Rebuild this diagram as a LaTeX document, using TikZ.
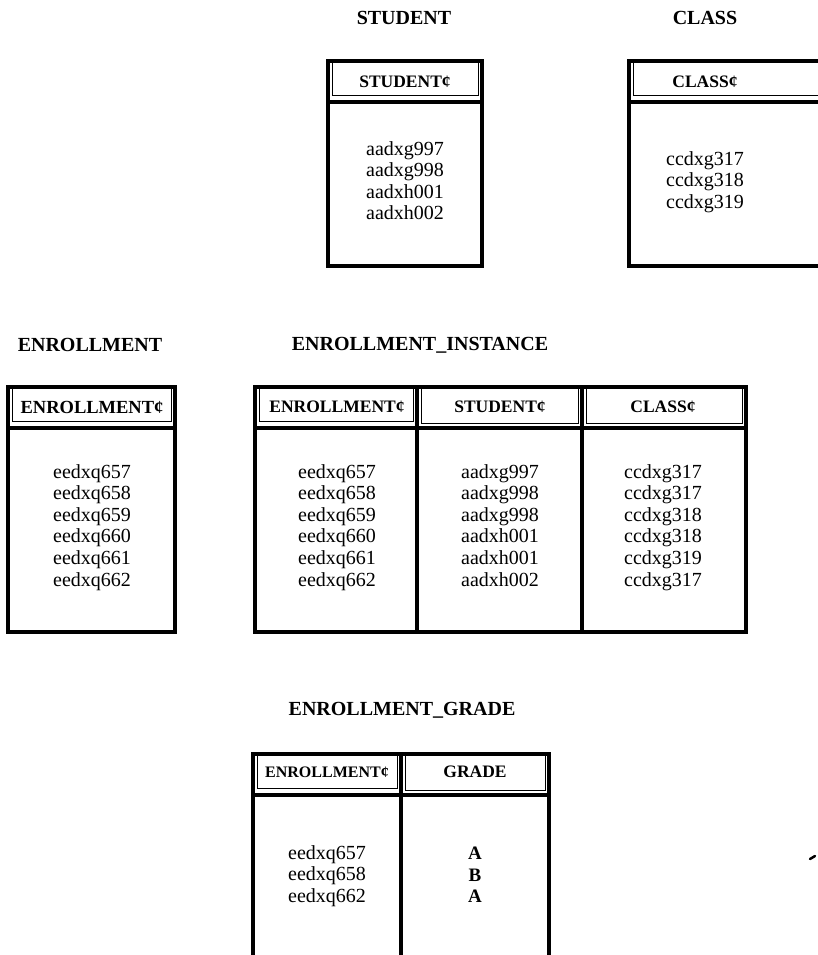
\documentclass[tikz,border=0pt]{standalone}
\usepackage{fontspec}
\setmainfont{Liberation Serif}
\begin{document}
\begin{tikzpicture}[x=1pt,y=-1pt,
  frame/.style={draw=black,line width=3.6pt},
  inner/.style={draw=black,line width=1pt},
  septhick/.style={draw=black,line width=3.4pt},
  coldiv/.style={draw=black,line width=3.8pt},
  title/.style={font=\fontsize{20}{22}\selectfont\bfseries,inner sep=0pt},
  head/.style={font=\fontsize{17.5}{20}\selectfont\bfseries,inner sep=0pt},
  body/.style={font=\fontsize{20}{21.6}\selectfont,align=center,inner sep=0pt,anchor=north}]
\useasboundingbox (0,0) rectangle (818,955);
\clip (0,0) rectangle (818,955);

% ---------- STUDENT ----------
\node[title] (tStudent) at (404,18) {STUDENT};
\draw[inner] (332,61) rectangle (478,96);
\draw[frame] (328,61) rectangle (482,266);
\draw[septhick] (328,102) -- (482,102);
\node[head] (hStudent) at (405,82) {STUDENT¢};
\node[body] (bStudent) at (405,141) {aadxg997\\aadxg998\\aadxh001\\aadxh002};

% ---------- CLASS ----------
\node[title] (tClass) at (705,18) {CLASS};
\draw[inner] (633,61) rectangle (830,96);
\draw[frame] (629,61) rectangle (840,266);
\draw[septhick] (629,102) -- (818,102);
\node[head] (hClass) at (705,82) {CLASS¢};
\node[body] (bClass) at (705,151) {ccdxg317\\ccdxg318\\ccdxg319};

% ---------- ENROLLMENT ----------
\node[title] (tEnroll) at (90,345) {ENROLLMENT};
\draw[inner] (12,387) rectangle (171,421);
\draw[frame] (8,387) rectangle (175,632);
\draw[septhick] (8,428) -- (175,428);
\node[head,font=\fontsize{18.5}{20}\selectfont\bfseries] (hEnroll) at (92,407) {ENROLLMENT¢};
\node[body] (bEnroll) at (92,464) {eedxq657\\eedxq658\\eedxq659\\eedxq660\\eedxq661\\eedxq662};

% ---------- ENROLLMENT_INSTANCE ----------
\node[title] (tInst) at (420,345) {ENROLLMENT\_INSTANCE};
\draw[inner] (259,387) rectangle (413,421);
\draw[inner] (421,387) rectangle (578,423);
\draw[inner] (586,387) rectangle (742,423);
\draw[frame] (255,387) rectangle (746,632);
\draw[coldiv] (417,387) -- (417,632);
\draw[coldiv] (582,387) -- (582,632);
\draw[septhick] (255,428) -- (746,428);
\node[head] (hInst1) at (337,407) {ENROLLMENT¢};
\node[head] (hInst2) at (500,407) {STUDENT¢};
\node[head] (hInst3) at (663,407) {CLASS¢};
\node[body] (bInst1) at (337,464) {eedxq657\\eedxq658\\eedxq659\\eedxq660\\eedxq661\\eedxq662};
\node[body] (bInst2) at (500,464) {aadxg997\\aadxg998\\aadxg998\\aadxh001\\aadxh001\\aadxh002};
\node[body] (bInst3) at (663,464) {ccdxg317\\ccdxg317\\ccdxg318\\ccdxg318\\ccdxg319\\ccdxg317};

% ---------- ENROLLMENT_GRADE ----------
\node[title] (tGrade) at (402,710) {ENROLLMENT\_GRADE};
\draw[inner] (257,754) rectangle (397,788);
\draw[inner] (405,754) rectangle (545,790);
\draw[frame] (253,980) -- (253,754) -- (549,754) -- (549,980);
\draw[coldiv] (401,754) -- (401,980);
\draw[septhick] (253,795) -- (549,795);
\node[head,font=\fontsize{16}{20}\selectfont\bfseries] (hGrade1) at (327,772) {ENROLLMENT¢};
\node[head] (hGrade2) at (475,772) {GRADE};
\node[body] (bGrade1) at (327,845) {eedxq657\\eedxq658\\eedxq662};
\node[body,font=\fontsize{19}{21.6}\selectfont\bfseries] (bGrade2) at (475,847) {A\\B\\A};

% stray mark
\draw[line width=2.5pt,line cap=round] (810,859) -- (815,856);
\end{tikzpicture}
\end{document}
